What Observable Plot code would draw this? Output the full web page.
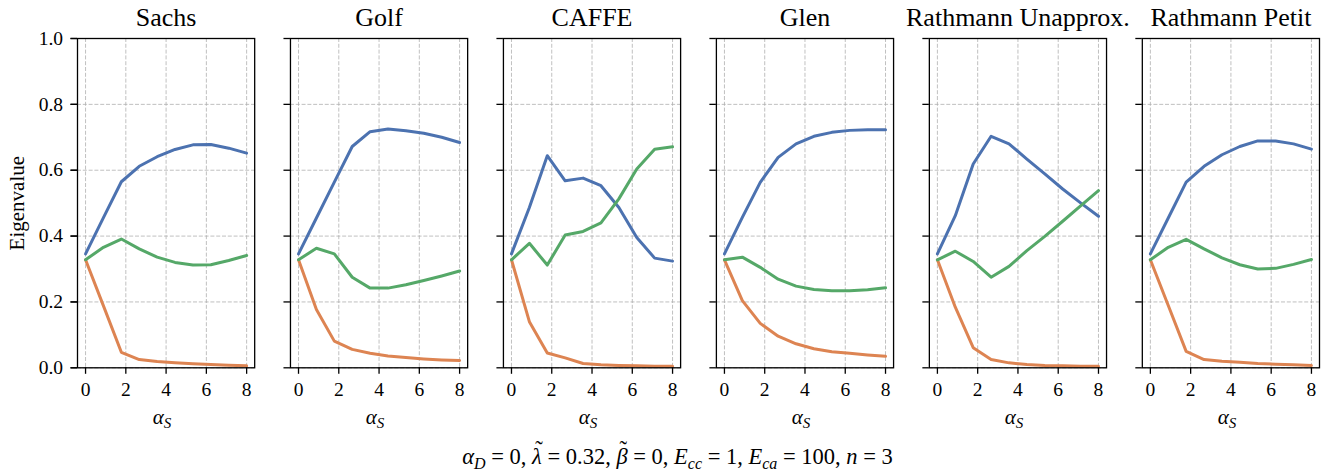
<!DOCTYPE html>
<html><head><meta charset="utf-8">
<script src="https://cdn.jsdelivr.net/npm/d3@7"></script>
<script src="https://cdn.jsdelivr.net/npm/@observablehq/plot@0.6"></script>
<style>
body{margin:0;background:#fff;}
#chart svg{display:block;}
#caption{width:1335px;height:37px;line-height:37px;text-align:center;font-family:"Liberation Serif",serif;font-size:22.5px;color:#000;padding-left:20px;box-sizing:border-box;}
#caption sub{font-size:16px;vertical-align:-5px;line-height:0;}
.tl{position:relative;display:inline-block;line-height:1;}
.tl::after{content:"˜";position:absolute;left:0.14em;top:-0.3em;font-style:normal;line-height:1;}
</style></head><body>
<div id="chart"></div>
<div id="caption"><i>α</i><sub><i>D</i></sub> = 0, <i class="tl">λ</i> = 0.32, <i class="tl">β</i> = 0, <i>E</i><sub><i>cc</i></sub> = 1, <i>E</i><sub><i>ca</i></sub> = 100, <i>n</i> = 3</div>
<script>
const methods = ["Sachs", "Golf", "CAFFE", "Glen", "Rathmann Unapprox.", "Rathmann Petit"];
const alphaS = [0, 0.889, 1.778, 2.667, 3.556, 4.444, 5.333, 6.222, 7.111, 8];
const seriesNames = ["eig1", "eig2", "eig3"];
const seriesColors = ["#4C72B0", "#DD8452", "#55A868"];
const xTicks = [0, 2, 4, 6, 8];
const yTicks = [0, 0.2, 0.4, 0.6, 0.8, 1.0];

// blue
const eig1 = [
  [0.346,0.456,0.565,0.612,0.641,0.663,0.677,0.678,0.667,0.652],
  [0.346,0.455,0.564,0.672,0.717,0.725,0.720,0.712,0.700,0.684],
  [0.346,0.487,0.644,0.568,0.576,0.553,0.487,0.396,0.333,0.324],
  [0.346,0.457,0.563,0.639,0.680,0.703,0.715,0.721,0.723,0.723],
  [0.346,0.462,0.619,0.703,0.680,0.634,0.589,0.543,0.501,0.460],
  [0.346,0.455,0.564,0.612,0.647,0.672,0.689,0.689,0.680,0.664]
];
// orange
const eig2 = [
  [0.328,0.188,0.047,0.025,0.019,0.015,0.012,0.010,0.008,0.006],
  [0.328,0.177,0.081,0.056,0.044,0.036,0.031,0.027,0.024,0.022],
  [0.328,0.140,0.045,0.030,0.013,0.009,0.007,0.006,0.005,0.005],
  [0.328,0.204,0.135,0.096,0.073,0.058,0.049,0.044,0.039,0.035],
  [0.328,0.184,0.061,0.025,0.015,0.010,0.007,0.006,0.005,0.005],
  [0.328,0.189,0.050,0.025,0.020,0.017,0.013,0.011,0.009,0.007]
];
// green
const eig3 = [
  [0.328,0.366,0.391,0.361,0.336,0.320,0.312,0.313,0.326,0.341],
  [0.328,0.363,0.346,0.275,0.242,0.242,0.252,0.265,0.279,0.294],
  [0.328,0.378,0.312,0.403,0.414,0.440,0.513,0.604,0.664,0.671],
  [0.328,0.336,0.305,0.269,0.248,0.238,0.234,0.234,0.237,0.243],
  [0.328,0.354,0.323,0.275,0.308,0.356,0.399,0.445,0.492,0.538],
  [0.328,0.366,0.390,0.361,0.334,0.313,0.300,0.302,0.314,0.329]
];

const all = [eig1, eig2, eig3];
const rows = [];
methods.forEach((m, mi) => {
  all.forEach((arr, si) => {
    alphaS.forEach((a, i) => rows.push({method: m, series: seriesNames[si], a, v: arr[mi][i]}));
  });
});

const FF = "Liberation Serif";
const grid = {stroke: "#b0b0b0", strokeOpacity: 1, strokeWidth: 0.8, strokeDasharray: "4,1.8"};

const chart = Plot.plot({
  width: 1335,
  height: 438,
  marginLeft: 77,
  marginRight: 16,
  marginTop: 38,
  marginBottom: 70.7,
  style: {fontFamily: "'Liberation Serif', serif", fontSize: "20px", color: "#000", background: "#fff"},
  fx: {domain: methods, paddingInner: 0.168, paddingOuter: 0, round: false, label: null, axis: null},
  x: {domain: [-0.4, 8.4], ticks: xTicks, label: null, axis: null},
  y: {domain: [0, 1], ticks: yTicks, label: null, axis: null},
  color: {domain: seriesNames, range: seriesColors},
  marks: [
    Plot.gridX(xTicks, {...grid}),
    Plot.gridY(yTicks, {...grid}),
    Plot.lineY(rows, {x: "a", y: "v", fx: "method", z: "series", stroke: "series", strokeWidth: 3, strokeLinejoin: "round"}),
    Plot.frame({stroke: "#000", strokeWidth: 1.3}),
    Plot.axisX(xTicks, {tickSize: 6.5, tickPadding: 8, fontSize: 19.5, fontFamily: FF, fontVariant: "normal", strokeWidth: 1.3, label: null}),
    Plot.axisY(yTicks, {tickSize: 6.5, tickPadding: 8, fontSize: 19.5, fontFamily: FF, fontVariant: "normal", strokeWidth: 1.3, tickFormat: d => d.toFixed(1),
      label: "Eigenvalue", labelAnchor: "center", labelOffset: 68, labelArrow: "none"}),
    Plot.axisY(yTicks, {tickSize: 6.5, strokeWidth: 1.3, tickFormat: () => "", facetAnchor: null, label: null}),
    Plot.axisFx({anchor: "top", tickSize: 0, tickPadding: 13, fontSize: 26, fontFamily: FF, label: null}),
    Plot.text(["α"], {frameAnchor: "bottom", dy: 56, fontSize: 21, fontFamily: FF, fontStyle: "italic", text: d => d, dx: -4})
  ]
});
document.getElementById("chart").appendChild(chart);

// subscript S on the x labels
d3.select(chart).selectAll("text").filter(function() { return this.textContent === "α"; })
  .each(function() {
    d3.select(this).append("tspan").attr("dy", "0.3em").attr("font-size", 15).text("S");
  });
d3.select(chart).selectAll("text").filter(function() { return this.textContent === "Eigenvalue"; })
  .attr("font-size", 21).attr("font-family", FF);
</script>
</body></html>
